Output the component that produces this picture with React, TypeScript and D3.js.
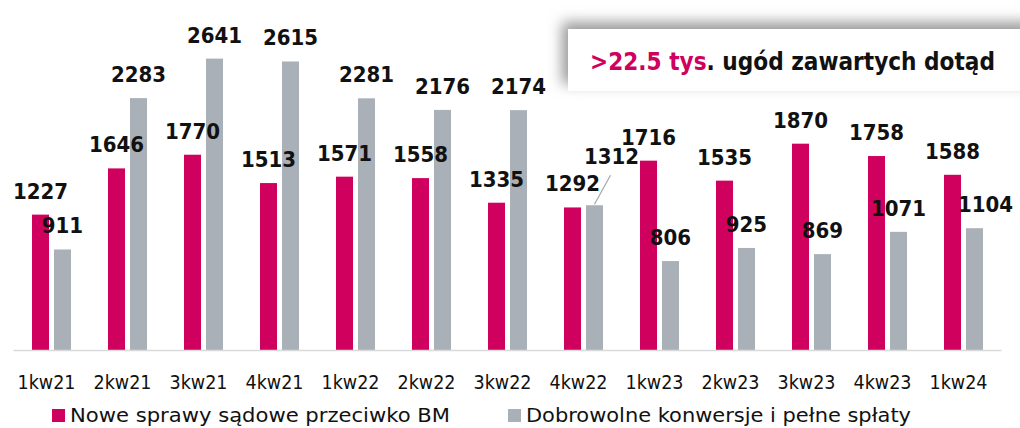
import { useEffect, useRef } from "react";
import * as d3 from "d3";

const categories = ["1kw21", "2kw21", "3kw21", "4kw21", "1kw22", "2kw22", "3kw22", "4kw22", "1kw23", "2kw23", "3kw23", "4kw23", "1kw24"];
const lawsuits = [1227, 1646, 1770, 1513, 1571, 1558, 1335, 1292, 1716, 1535, 1870, 1758, 1588];
const settlements = [911, 2283, 2641, 2615, 2281, 2176, 2174, 1312, 806, 925, 869, 1071, 1104];
const seriesNames = ["Nowe sprawy sądowe przeciwko BM", "Dobrowolne konwersje i pełne spłaty"];
const calloutHighlight = ">22.5 tys";
const calloutRest = ". ugód zawartych dotąd";

const W = 1020;
const H = 428;
const PINK = "#d0005f";
const GRAY = "#a9b0b8";
const TXT = "#111";
const FONT = "'DejaVu Sans Condensed', 'DejaVu Sans', sans-serif";

export default function App() {
  const ref = useRef<SVGSVGElement>(null);

  useEffect(() => {
    const svg = d3.select(ref.current);
    svg.selectAll("*").remove();

    const x0 = d3.scaleBand<string>().domain(categories).range([13.5, 1001.5]);
    const x1 = d3.scaleBand<number>().domain([0, 1]).range([18.5, 57.5]).paddingInner(0.227);
    const y = d3.scaleLinear().domain([0, 3000]).range([350, 19]);

    // callout shadow
    const defs = svg.append("defs");
    const f = defs.append("filter").attr("id", "sh").attr("x", "-20%").attr("y", "-80%").attr("width", "140%").attr("height", "260%");
    f.append("feDropShadow").attr("dx", -6).attr("dy", -7).attr("stdDeviation", 7).attr("flood-color", "#777").attr("flood-opacity", 0.75);

    const series = [lawsuits, settlements];
    const colors = [PINK, GRAY];

    const g = svg.append("g");
    series.forEach((vals, s) => {
      g.selectAll(".bar" + s)
        .data(vals)
        .join("rect")
        .attr("x", (d, i) => x0(categories[i])! + x1(s)!)
        .attr("width", x1.bandwidth())
        .attr("y", d => y(d))
        .attr("height", d => y(0) - y(d))
        .attr("fill", colors[s]);
    });

    // axis line
    svg.append("line")
      .attr("x1", x0.range()[0]).attr("x2", x0.range()[1])
      .attr("y1", y(0) + 0.5).attr("y2", y(0) + 0.5)
      .attr("stroke", "#d9d9d9").attr("stroke-width", 1.5);

    // category labels
    svg.append("g").selectAll("text")
      .data(categories)
      .join("text")
      .attr("x", d => x0(d)! + x0.bandwidth() / 2 - 5)
      .attr("y", 389)
      .attr("text-anchor", "middle")
      .attr("font-family", FONT)
      .attr("font-size", 19.5)
      .attr("fill", TXT)
      .text(d => d);

    // value labels
    const moved: Record<string, [number, number]> = { "1-7": [17, -25], "1-12": [11, 0] };
    series.forEach((vals, s) => {
      vals.forEach((v, i) => {
        const cx = x0(categories[i])! + x1(s)! + x1.bandwidth() / 2;
        const off = moved[s + "-" + i] || [0, 0];
        svg.append("text")
          .attr("x", cx + off[0])
          .attr("y", y(v) - 16 + off[1])
          .attr("text-anchor", "middle")
          .attr("font-family", FONT)
          .attr("font-weight", "bold")
          .attr("font-size", 22)
          .attr("fill", TXT)
          .text(v);
        if (moved[s + "-" + i] && off[1] !== 0) {
          svg.append("line")
            .attr("x1", cx).attr("y1", y(v) - 1)
            .attr("x2", cx + 16).attr("y2", y(v) - 30)
            .attr("stroke", "#a6a6a6").attr("stroke-width", 1.2);
        }
      });
    });

    // callout
    svg.append("rect")
      .attr("x", 568).attr("y", 29).attr("width", 470).attr("height", 62)
      .attr("fill", "#fff").attr("filter", "url(#sh)");
    const ct = svg.append("text")
      .attr("x", 590).attr("y", 70)
      .attr("font-family", FONT).attr("font-weight", "bold").attr("font-size", 24)
      .attr("textLength", 405).attr("lengthAdjust", "spacingAndGlyphs");
    ct.append("tspan").attr("fill", PINK).text(calloutHighlight);
    ct.append("tspan").attr("fill", TXT).text(calloutRest);

    // legend
    const lx = [52, 508];
    const lw = [380, 385];
    seriesNames.forEach((name, s) => {
      svg.append("rect").attr("x", lx[s]).attr("y", 409).attr("width", 13).attr("height", 13).attr("fill", colors[s]);
      svg.append("text")
        .attr("x", lx[s] + 18).attr("y", 422)
        .attr("font-family", "'DejaVu Sans', sans-serif").attr("font-size", 20).attr("fill", TXT)
        .attr("textLength", lw[s]).attr("lengthAdjust", "spacingAndGlyphs")
        .text(name);
    });
  }, []);

  return (
    <svg ref={ref} width={W} height={H}
      style={{ position: "absolute", left: 0, top: 0, background: "#fff" }} />
  );
}
